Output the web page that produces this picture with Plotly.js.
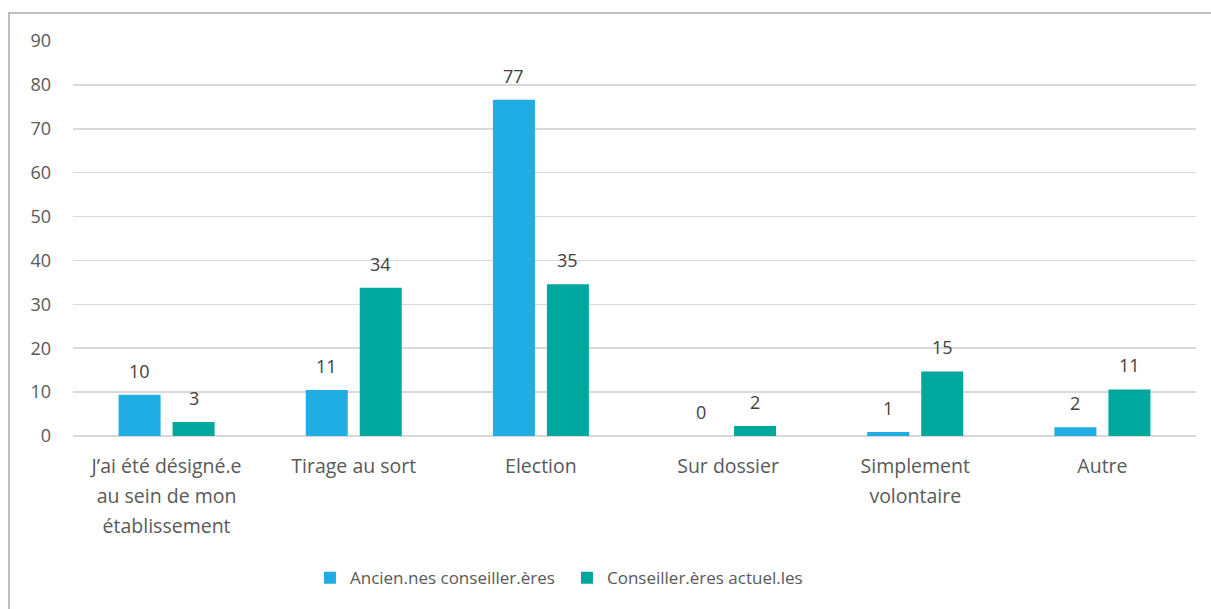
<!DOCTYPE html>
<html>
<head>
<meta charset="utf-8">
<script src="https://cdn.plot.ly/plotly-3.0.1.min.js"></script>
<style>
  html, body { margin: 0; padding: 0; background: #fff; }
  #wrap { position: relative; width: 1211px; height: 609px; overflow: hidden; }
  #chart { width: 1211px; height: 609px; }
  #frame { position: absolute; left: 8px; top: 12px; width: 1300px; height: 700px;
           border: 2px solid #BFBFBF; pointer-events: none; box-sizing: border-box; }
</style>
</head>
<body>
<div id="wrap">
  <div id="chart"></div>
  <div id="frame"></div>
</div>
<script>
// Data
const categories = [
  "J\u2019ai été désigné.e<br>au sein de mon<br>établissement",
  "Tirage au sort",
  "Election",
  "Sur dossier",
  "Simplement<br>volontaire",
  "Autre"
];
const seriesNames = ["Ancien.nes conseiller.ères", "Conseiller.ères actuel.les"];
const anciens = [9.4, 10.5, 76.6, 0, 0.9, 2.0];
const actuels = [3.2, 33.8, 34.6, 2.3, 14.7, 10.6];
const anciensLabels = ["10", "11", "77", "0", "1", "2"];
const actuelsLabels = ["3", "34", "35", "2", "15", "11"];
const yTicks = [0, 10, 20, 30, 40, 50, 60, 70, 80, 90];

const colors = ["#1FADE4", "#00A79D"];
const font = "'Open Sans', 'Noto Sans', sans-serif";

const traces = [
  { type: "bar", name: seriesNames[0], x: categories, y: anciens,
    marker: { color: colors[0] }, hoverinfo: "skip" },
  { type: "bar", name: seriesNames[1], x: categories, y: actuels,
    marker: { color: colors[1] }, hoverinfo: "skip" }
];

const annotations = [];
const groups = [[anciens, anciensLabels, -27], [actuels, actuelsLabels, 27]];
groups.forEach(([vals, labels, dx]) => {
  categories.forEach((c, i) => {
    annotations.push({
      x: c, y: vals[i], xref: "x", yref: "y",
      text: labels[i], showarrow: false,
      xanchor: "center", yanchor: "bottom",
      xshift: dx, yshift: 10,
      font: { family: font, size: 18, color: "#404040" }
    });
  });
});

// category tick text: wider line spacing via larger nominal font, visible text smaller
const tickText = categories.map(c =>
  c.split("<br>").map(s => '<span style="font-size:19.5px">' + s + '</span>').join("<br>"));

const layout = {
  width: 1211, height: 609,
  margin: { l: 73, r: 15, t: 41, b: 173 },
  paper_bgcolor: "#fff", plot_bgcolor: "#fff",
  barmode: "group", bargap: 0.423, bargroupgap: 0.222,
  showlegend: true,
  legend: { orientation: "h", x: 0.211, xanchor: "left", y: -0.36, yanchor: "middle",
            font: { family: font, size: 17, color: "#595959" },
            itemwidth: 30, traceorder: "normal",
            entrywidth: 212, entrywidthmode: "pixels" },
  xaxis: { tickmode: "array", tickvals: categories, ticktext: tickText,
           tickfont: { family: font, size: 23, color: "#595959" },
           showgrid: false, zeroline: false, showline: false, ticks: "",
           ticklabelstandoff: 13 },
  yaxis: { range: [0, 90], tickvals: yTicks, ticktext: yTicks.map(String),
           tickfont: { family: font, size: 18, color: "#595959" },
           showgrid: true, gridcolor: "#D9D9D9", gridwidth: 1.5,
           zeroline: true, zerolinecolor: "#D9D9D9", zerolinewidth: 1.5,
           showline: false, ticks: "", ticklabelstandoff: 21 },
  annotations: annotations,
  font: { family: font }
};

Plotly.newPlot("chart", traces, layout, { displayModeBar: false, staticPlot: true });
</script>
</body>
</html>
